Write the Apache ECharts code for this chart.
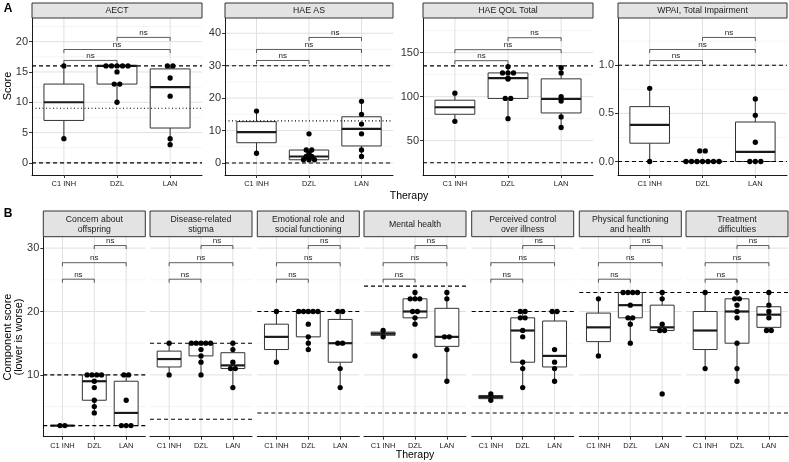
<!DOCTYPE html>
<html><head><meta charset="utf-8">
<script src="https://cdn.jsdelivr.net/npm/echarts@6/dist/echarts.min.js"></script>
<style>html,body{margin:0;padding:0;background:#fff}#c{width:789px;height:462px}</style>
</head><body><div id="c"></div>
<script>
// ---------- DATA ----------
const therapies = ['C1 INH', 'DZL', 'LAN'];

// Panel A facets
const aTitles = ['AECT', 'HAE AS', 'HAE QOL Total', 'WPAI, Total Impairment'];
const aectC1 = [4, 16];
const aectDZL = [10, 13, 13, 15, 16, 16, 16, 16, 16];
const aectLAN = [3, 4, 11, 14, 16, 16];
const haeasC1 = [3, 16];
const haeasDZL = [1, 1, 1, 2, 2, 3, 4, 4, 9];
const haeasLAN = [2, 4, 9, 12, 15, 19];
const qolC1 = [72, 104];
const qolDZL = [75, 98, 98, 120, 121, 127, 127, 127, 134];
const qolLAN = [65, 77, 95, 100, 127, 133];
const wpaiC1 = [0, 0.76];
const wpaiDZL = [0, 0, 0, 0, 0, 0, 0, 0.11, 0.11];
const wpaiLAN = [0, 0, 0, 0.2, 0.48, 0.65];
const aDashed = [[0, 16], [0, 30], [25, 135], [0, 1]];
const aDotted = [[9], [13], [], []];
const aBrackets = [[16.9, 18.7, 20.7], [31.6, 35, 38.7], [140.9, 153.4, 167], [1.048, 1.163, 1.288]];
const aYMin = [-2, -3.7, 11, -0.14];
const aYMax = [23.9, 44.7, 189.4, 1.49];
const aYTicks = [[0, 5, 10, 15, 20], [0, 10, 20, 30, 40], [50, 100, 150], [0, 0.5, 1]];
const aYMinor = [[2.5, 7.5, 12.5, 17.5, 22.5], [5, 15, 25, 35], [25, 75, 125, 175], [0.25, 0.75, 1.25]];

// Panel B facets
const bTitles = ['Concern about\noffspring', 'Disease-related\nstigma', 'Emotional role and\nsocial functioning',
  'Mental health', 'Perceived control\nover illness', 'Physical functioning\nand health', 'Treatment\ndifficulties'];
const concernC1 = [2, 2];
const concernDZL = [4, 5, 6, 8, 9, 10, 10, 10, 10];
const concernLAN = [2, 2, 2, 6, 10, 10];
const stigmaC1 = [10, 15];
const stigmaDZL = [10, 12, 13, 14, 15, 15, 15, 15, 15];
const stigmaLAN = [8, 11, 11, 12, 14, 15];
const emotionalC1 = [12, 20];
const emotionalDZL = [14, 15, 16, 18, 20, 20, 20, 20, 20];
const emotionalLAN = [8, 11, 15, 15, 20, 20];
const mentalC1 = [16, 17];
const mentalDZL = [13, 18, 19, 20, 20, 22, 22, 22, 23];
const mentalLAN = [9, 14, 16, 16, 22, 23];
const perceivedC1 = [6, 7];
const perceivedDZL = [8, 11, 12, 16, 17, 19, 19, 20, 20];
const perceivedLAN = [9, 11, 12, 14, 20, 20];
const physicalC1 = [13, 22];
const physicalDZL = [15, 18, 19, 19, 21, 23, 23, 23, 23];
const physicalLAN = [7, 17, 17, 18, 22, 23];
const treatmentC1 = [11, 23];
const treatmentDZL = [9, 11, 15, 19, 20, 21, 22, 22, 23];
const treatmentLAN = [17, 17, 19, 20, 21, 23];
const bDashed = [[2, 10], [3, 15], [4, 20], [4, 24], [4, 20], [4, 23], [4, 23]];
const bBrackets = [25.1, 27.7, 30.4];
const bYMin = 0.25, bYMax = 31.8;
const bYTicks = [10, 20, 30];
const bYMinor = [5, 15, 25];

// ---------- LAYOUT ----------
const FONT = 'Liberation Sans, Arial, Helvetica, sans-serif';
const aLeft = [32, 225, 423, 618], aWidth = [170, 168, 170, 169], aTop = 18, aHeight = 157, aStripTop = 3;
const bLeft = [43.3, 150, 257.3, 364, 471.7, 579.3, 686], bWidth = 102, bTop = 236.7, bHeight = 200, bStripTop = 211;

const aGroups = [[aectC1, aectDZL, aectLAN], [haeasC1, haeasDZL, haeasLAN], [qolC1, qolDZL, qolLAN], [wpaiC1, wpaiDZL, wpaiLAN]];
const bGroups = [[concernC1, concernDZL, concernLAN], [stigmaC1, stigmaDZL, stigmaLAN], [emotionalC1, emotionalDZL, emotionalLAN],
  [mentalC1, mentalDZL, mentalLAN], [perceivedC1, perceivedDZL, perceivedLAN], [physicalC1, physicalDZL, physicalLAN],
  [treatmentC1, treatmentDZL, treatmentLAN]];

function quant(s, p) { const h = (s.length - 1) * p, lo = Math.floor(h), hi = Math.ceil(h); return s[lo] + (h - lo) * (s[hi] - s[lo]); }
function boxStats(vals) {
  const s = [...vals].sort((a, b) => a - b);
  const q1 = quant(s, .25), med = quant(s, .5), q3 = quant(s, .75), iqr = q3 - q1;
  const lo = Math.min(...s.filter(v => v >= q1 - 1.5 * iqr));
  const hi = Math.max(...s.filter(v => v <= q3 + 1.5 * iqr));
  return [lo, q1, med, q3, hi];
}
function pointData(groups, spacing) {
  const out = [];
  groups.forEach((vals, gi) => {
    const counts = {}, seen = {};
    vals.forEach(v => counts[v] = (counts[v] || 0) + 1);
    vals.forEach(v => {
      const k = counts[v], i = seen[v] || 0; seen[v] = i + 1;
      out.push({ value: [gi + 1, v], symbolOffset: [(i - (k - 1) / 2) * spacing, 0] });
    });
  });
  return out;
}

const grids = [], xAxes = [], yAxes = [], series = [], graphics = [];

function hlineRender(style) {
  return function (params, api) {
    const cs = params.coordSys; const y = api.coord([1, api.value(1)])[1];
    return { type: 'line', shape: { x1: cs.x, y1: y, x2: cs.x + cs.width, y2: y }, style: style };
  };
}
function vlineRender(style) {
  return function (params, api) {
    const cs = params.coordSys; const x = api.coord([api.value(0), api.value(1)])[0];
    return { type: 'line', shape: { x1: x, y1: cs.y, x2: x, y2: cs.y + cs.height }, style: style };
  };
}
function boxRender(params, api) {
  const x = api.value(0);
  const c = i => api.coord([x, api.value(i)]);
  const lo = c(1), q1 = c(2), med = c(3), q3 = c(4), hi = c(5);
  const left = api.coord([x - 0.375, api.value(3)])[0], right = api.coord([x + 0.375, api.value(3)])[0];
  const st = { stroke: '#333', lineWidth: 1 };
  return { type: 'group', children: [
    { type: 'line', shape: { x1: lo[0], y1: lo[1], x2: q1[0], y2: q1[1] }, style: st },
    { type: 'line', shape: { x1: q3[0], y1: q3[1], x2: hi[0], y2: hi[1] }, style: st },
    { type: 'rect', shape: { x: left, y: q3[1], width: right - left, height: Math.max(q1[1] - q3[1], 0.01) }, style: { fill: '#fff', stroke: '#333', lineWidth: 1 } },
    { type: 'line', shape: { x1: left, y1: med[1], x2: right, y2: med[1] }, style: { stroke: '#1a1a1a', lineWidth: 2.2 } }
  ] };
}
function bracketRender(params, api) {
  const y = api.value(2);
  const p1 = api.coord([api.value(0), y]), p2 = api.coord([api.value(1), y]);
  const tip = 3.5;
  return { type: 'group', children: [
    { type: 'polyline', shape: { points: [[p1[0], p1[1] + tip], [p1[0], p1[1]], [p2[0], p2[1]], [p2[0], p2[1] + tip]] }, style: { stroke: '#333', lineWidth: 0.8, fill: 'none' } },
    { type: 'text', style: { text: 'ns', x: (p1[0] + p2[0]) / 2, y: p1[1] - 0.5, align: 'center', verticalAlign: 'bottom', textAlign: 'center', textVerticalAlign: 'bottom', font: '8px ' + FONT, fill: '#222' } }
  ] };
}

function addFacet(idx, left, width, top, height, yMin, yMax, ticks, minor, showY, groups, dashed, dotted, brackets, spacing) {
  grids.push({ left: left, top: top, width: width, height: height, containLabel: false });
  xAxes.push({
    type: 'value', gridIndex: idx, min: 0.4, max: 3.6,
    axisLine: { show: true, onZero: false, lineStyle: { color: '#1a1a1a', width: 1 } },
    axisTick: { show: true, customValues: [1, 2, 3], length: 3, lineStyle: { color: '#333' } },
    axisLabel: { customValues: [1, 2, 3], formatter: v => therapies[Math.round(v) - 1], fontSize: 7.5, fontFamily: FONT, color: '#222', margin: 5 },
    splitLine: { show: false }
  });
  yAxes.push({
    type: 'value', gridIndex: idx, min: yMin, max: yMax,
    axisLine: { show: showY, onZero: false, lineStyle: { color: '#1a1a1a', width: 1 } },
    axisTick: { show: showY, customValues: ticks, length: 3, lineStyle: { color: '#333' } },
    axisLabel: { show: showY, customValues: ticks, fontSize: 11, fontFamily: FONT, color: '#333', margin: 4,
      formatter: v => (yMax < 2 ? v.toFixed(1) : String(v)) },
    splitLine: { show: false }
  });
  const base = { coordinateSystem: 'cartesian2d', xAxisIndex: idx, yAxisIndex: idx, silent: true, animation: false, encode: { x: 0, y: 1 } };
  series.push(Object.assign({}, base, { type: 'custom', z: 0, renderItem: hlineRender({ stroke: '#ececec', lineWidth: 0.6 }), data: minor.map(v => [1, v]) }));
  series.push(Object.assign({}, base, { type: 'custom', z: 0, renderItem: hlineRender({ stroke: '#e0e0e0', lineWidth: 1 }), data: ticks.map(v => [1, v]) }));
  series.push(Object.assign({}, base, { type: 'custom', z: 0, renderItem: vlineRender({ stroke: '#e0e0e0', lineWidth: 1 }), data: [1, 2, 3].map(k => [k, yMin]) }));
  series.push(Object.assign({}, base, { type: 'custom', z: 2, renderItem: boxRender,
    encode: { x: 0, y: [1, 2, 3, 4, 5] }, data: groups.map((g, i) => [i + 1].concat(boxStats(g))) }));
  series.push(Object.assign({}, base, { type: 'custom', z: 3, renderItem: hlineRender({ stroke: '#000', lineWidth: 1.1, lineDash: [4, 3] }), data: dashed.map(v => [1, v]) }));
  if (dotted.length) series.push(Object.assign({}, base, { type: 'custom', z: 3, renderItem: hlineRender({ stroke: '#000', lineWidth: 1.1, lineDash: [1, 2.5] }), data: dotted.map(v => [1, v]) }));
  series.push(Object.assign({}, base, { type: 'scatter', z: 4, symbol: 'circle', symbolSize: 5.3, itemStyle: { color: '#000', opacity: 1 }, data: pointData(groups, spacing) }));
  series.push(Object.assign({}, base, { type: 'custom', z: 4, renderItem: bracketRender, encode: { x: [0, 1], y: 2 },
    data: [[1, 2, brackets[0]], [1, 3, brackets[1]], [2, 3, brackets[2]]] }));
}

function strip(left, width, top, height, text) {
  graphics.push({ type: 'rect', shape: { x: left, y: top, width: width, height: height }, style: { fill: '#e3e3e3', stroke: '#333', lineWidth: 1 }, z: 10 });
  graphics.push({ type: 'text', z: 11, style: { text: text, x: left + width / 2, y: top + height / 2 + 0.5, align: 'center', verticalAlign: 'middle', textAlign: 'center', textVerticalAlign: 'middle', font: '8.7px ' + FONT, fill: '#1a1a1a', lineHeight: 10 } });
}

let idx = 0;
for (let i = 0; i < 4; i++) {
  addFacet(idx++, aLeft[i], aWidth[i], aTop, aHeight, aYMin[i], aYMax[i], aYTicks[i], aYMinor[i], true, aGroups[i], aDashed[i], aDotted[i], aBrackets[i], 5.5);
  strip(aLeft[i], aWidth[i], aStripTop, aTop - aStripTop, aTitles[i]);
}
for (let i = 0; i < 7; i++) {
  addFacet(idx++, bLeft[i], bWidth, bTop, bHeight, bYMin, bYMax, bYTicks, bYMinor, i === 0, bGroups[i], bDashed[i], [], bBrackets, 4.8);
  strip(bLeft[i], bWidth, bStripTop, bTop - bStripTop, bTitles[i]);
}

function label(text, x, y, font, lh, opts) {
  graphics.push(Object.assign({ type: 'text', x: x, y: y, z: 12, style: { text: text, x: 0, y: 0, align: 'center', verticalAlign: 'middle', textAlign: 'center', textVerticalAlign: 'middle', font: font, fill: '#000', lineHeight: lh } }, opts || {}));
}
label('A', 8, 9, 'bold 12px ' + FONT, 14);
label('B', 8, 214, 'bold 12px ' + FONT, 14);
label('Score', 8, 86, '11px ' + FONT, 13, { rotation: Math.PI / 2 });
label('Component score\n(lower is worse)', 13, 337, '11px ' + FONT, 11, { rotation: Math.PI / 2 });
label('Therapy', 409, 196, '10.5px ' + FONT, 12);
label('Therapy', 415, 455, '10.5px ' + FONT, 12);

const chart = echarts.init(document.getElementById('c'), null, { renderer: 'canvas' });
chart.setOption({
  backgroundColor: '#fff', animation: false,
  grid: grids, xAxis: xAxes, yAxis: yAxes, series: series, graphic: graphics
});
</script></body></html>
